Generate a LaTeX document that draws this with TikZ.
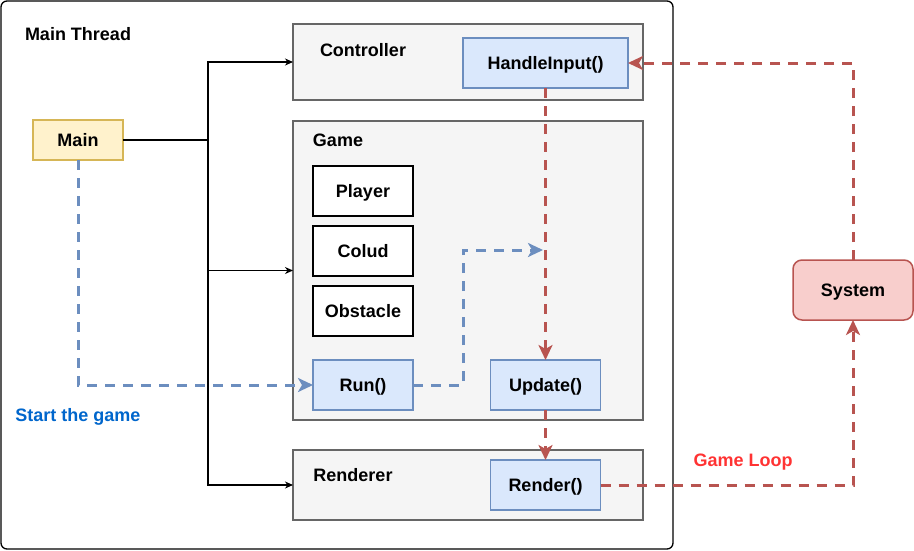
\documentclass[tikz,border=0pt]{standalone}
\usepackage{fontspec}
\setmainfont{Liberation Sans}
\usetikzlibrary{arrows.meta}
\definecolor{contfill}{HTML}{F5F5F5}
\definecolor{contline}{HTML}{666666}
\definecolor{bluefill}{HTML}{DAE8FC}
\definecolor{blueline}{HTML}{6C8EBF}
\definecolor{yelfill}{HTML}{FFF2CC}
\definecolor{yelline}{HTML}{D6B656}
\definecolor{redfill}{HTML}{F8CECC}
\definecolor{redline}{HTML}{B85450}
\definecolor{bluetext}{HTML}{0066CC}
\definecolor{redtext}{HTML}{FF3333}
\tikzset{
  every node/.style={font=\bfseries\fontsize{18}{21}\selectfont, inner sep=0pt, outer sep=0pt, text height=12.9pt, text depth=0pt},
  container/.style={draw=contline, fill=contfill, line width=1.5pt, rectangle},
  fnbox/.style={draw=blueline, fill=bluefill, line width=1.5pt, rectangle},
  plainbox/.style={draw=black, fill=white, line width=2.2pt, rectangle, minimum width=100pt, minimum height=50pt},
  blk/.style={draw=black, line width=1.1pt, -{Stealth[length=8pt,width=7pt,inset=2.5pt]}},
  bl/.style={draw=blueline, line width=3pt, dash pattern=on 10pt off 8pt, -{Stealth[length=15pt,width=14pt,inset=4pt]}},
  rd/.style={draw=redline, line width=3pt, dash pattern=on 10pt off 8pt, -{Stealth[length=15pt,width=14pt,inset=4pt]}},
}
\begin{document}
\begin{tikzpicture}[x=1pt,y=-1pt]
\useasboundingbox (0,0) rectangle (914,550);
% outer container
\node[draw=black, line width=1.3pt, rounded corners=6pt, minimum width=672pt, minimum height=548pt] (thread) at (337,275) {};
\node[anchor=west] (threadlbl) at (25,34) {Main Thread};
% controller
\node[container, minimum width=350pt, minimum height=76pt] (ctrl) at (468,62) {};
\node (ctrllbl) at (363,50) {Controller};
\node[fnbox, minimum width=165pt, minimum height=50pt] (hi) at (545.5,63) {HandleInput()};
% game
\node[container, minimum width=350pt, minimum height=299pt] (game) at (468,270.5) {};
\node (gamelbl) at (338,140) {Game};
\node[plainbox] (player) at (363,191) {Player};
\node[plainbox] (cloud) at (363,251) {Colud};
\node[plainbox] (obst) at (363,311) {Obstacle};
\node[fnbox, minimum width=100pt, minimum height=50pt] (run) at (363,385) {Run()};
\node[fnbox, minimum width=110pt, minimum height=50pt] (upd) at (545.5,385) {Update()};
% renderer
\node[container, minimum width=350pt, minimum height=70pt] (rendc) at (468,485) {};
\node (rendlbl) at (353,475) {Renderer};
\node[fnbox, minimum width=110pt, minimum height=50pt] (rendf) at (545.5,485) {Render()};
% main
\node[draw=yelline, fill=yelfill, line width=1.5pt, minimum width=90pt, minimum height=40pt] (main) at (78,140) {Main};
% system
\node[draw=redline, fill=redfill, line width=1.5pt, rounded corners=9pt, minimum width=120pt, minimum height=60pt] (sys) at (853,290) {System};
% labels
\node[text=bluetext] (startlbl) at (78,415) {Start the game};
\node[text=redtext] (looplbl) at (743,460) {Game Loop};
% black connectors
\coordinate (j) at (208,140);
\draw[line width=1.1pt] (main.east) -- (j);
\draw[blk] (j) |- (ctrl.west);
\draw[blk] (j) |- (game.west);
\draw[blk] (j) |- (rendc.west);
% blue dashed
\draw[bl] (main.south) |- (run.west);
\coordinate (bbend) at (463,385);
\coordinate (btip) at (543,250);
\draw[bl] (run.east) -- (bbend) |- (btip);
% red dashed
\draw[rd] (hi.south) -- (upd.north);
\draw[rd] (upd.south) -- (rendf.north);
\draw[rd] (rendf.east) -| (sys.south);
\draw[rd] (sys.north) |- (hi.east);
\end{tikzpicture}
\end{document}
